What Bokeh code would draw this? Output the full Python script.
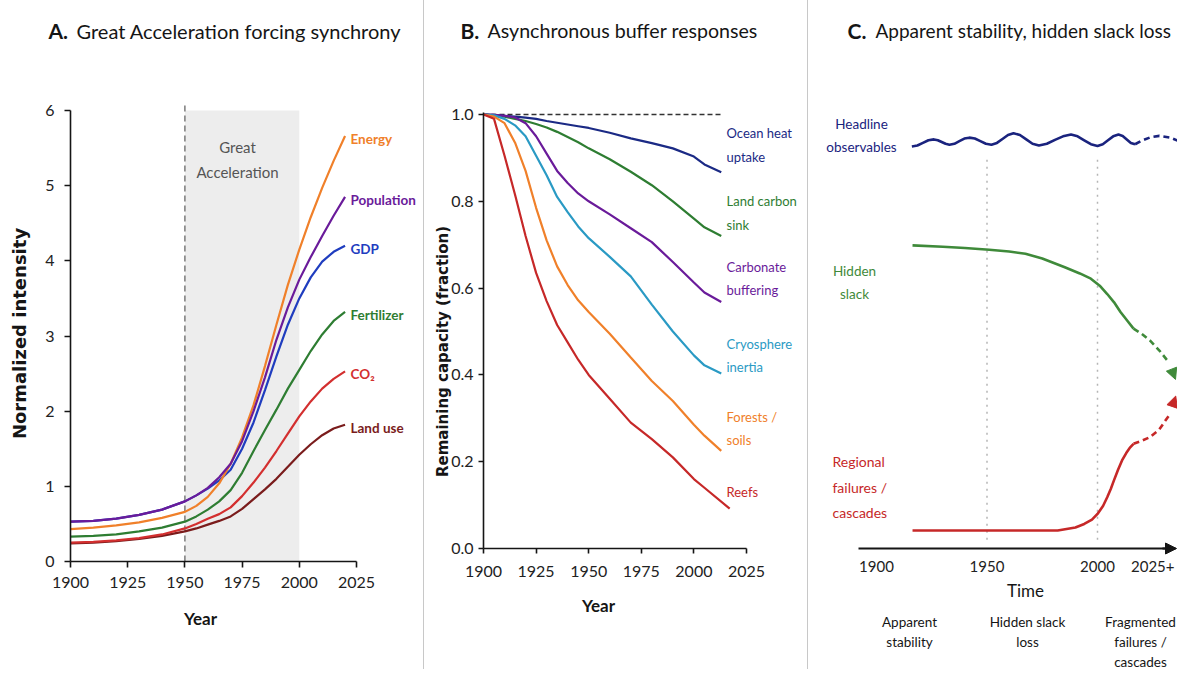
from bokeh.plotting import figure
from bokeh.models import Label, Arrow, NormalHead, Div, FixedTicker, PrintfTickFormatter, Range1d
from bokeh.layouts import row
from bokeh.embed import file_html
from bokeh.resources import INLINE

# ------------------------------------------------------------------ data
# Panel A: Great Acceleration indicators (normalized intensity)
A_YEARS = [1900, 1910, 1920, 1930, 1940, 1950, 1955, 1960, 1965, 1970, 1975,
           1980, 1985, 1990, 1995, 2000, 2005, 2010, 2015, 2020]
A_ENERGY = [0.43, 0.45, 0.48, 0.52, 0.58, 0.66, 0.74, 0.86, 1.04, 1.30, 1.65,
            2.08, 2.60, 3.15, 3.68, 4.15, 4.58, 4.97, 5.33, 5.66]
A_POPULATION = [0.53, 0.54, 0.57, 0.62, 0.69, 0.80, 0.88, 0.98, 1.12, 1.30, 1.60,
                2.00, 2.45, 2.95, 3.38, 3.75, 4.05, 4.33, 4.60, 4.85]
A_GDP = [0.53, 0.54, 0.57, 0.62, 0.69, 0.80, 0.88, 0.97, 1.08, 1.22, 1.50,
         1.85, 2.28, 2.73, 3.15, 3.50, 3.78, 3.99, 4.12, 4.20]
A_FERTILIZER = [0.33, 0.34, 0.36, 0.40, 0.45, 0.53, 0.60, 0.69, 0.80, 0.95, 1.18,
                1.47, 1.75, 2.02, 2.30, 2.55, 2.80, 3.02, 3.20, 3.32]
A_CO2 = [0.25, 0.26, 0.28, 0.31, 0.36, 0.44, 0.50, 0.57, 0.63, 0.72, 0.87,
         1.05, 1.25, 1.47, 1.70, 1.93, 2.13, 2.30, 2.43, 2.53]
A_LAND_USE = [0.24, 0.25, 0.27, 0.30, 0.34, 0.40, 0.44, 0.49, 0.54, 0.60, 0.70,
              0.83, 0.96, 1.10, 1.26, 1.42, 1.56, 1.68, 1.77, 1.82]
A_SERIES_NAMES = ["Energy", "Population", "GDP", "Fertilizer", "CO₂", "Land use"]
GREAT_ACCEL_START = 1950
GREAT_ACCEL_END = 2000
A_X_TICKS = [1900, 1925, 1950, 1975, 2000, 2025]
A_Y_TICKS = [0, 1, 2, 3, 4, 5, 6]

# Panel B: remaining buffer capacity (fraction)
B_YEARS = [1900, 1905, 1910, 1915, 1920, 1925, 1930, 1935, 1940, 1945, 1950, 1960,
           1970, 1980, 1990, 2000, 2005, 2013]
B_REEF_YEARS = [1900, 1905, 1910, 1915, 1920, 1925, 1930, 1935, 1940, 1945, 1950, 1960,
                1970, 1980, 1990, 2000, 2005, 2017]
B_OCEAN = [1.0, 0.999, 0.997, 0.995, 0.993, 0.990, 0.985, 0.981, 0.977, 0.973, 0.969,
           0.958, 0.945, 0.934, 0.922, 0.903, 0.885, 0.867]
B_LAND = [1.0, 0.998, 0.995, 0.990, 0.985, 0.978, 0.970, 0.960, 0.948, 0.936, 0.922,
          0.897, 0.868, 0.837, 0.800, 0.760, 0.740, 0.720]
B_CARBONATE = [1.0, 0.999, 0.997, 0.993, 0.980, 0.950, 0.910, 0.870, 0.842, 0.818, 0.800,
               0.770, 0.738, 0.706, 0.660, 0.613, 0.590, 0.568]
B_CRYO = [1.0, 0.998, 0.990, 0.975, 0.950, 0.905, 0.860, 0.810, 0.775, 0.742, 0.715,
          0.672, 0.627, 0.562, 0.500, 0.445, 0.422, 0.403]
B_FORESTS = [1.0, 0.995, 0.980, 0.935, 0.870, 0.785, 0.710, 0.650, 0.607, 0.572, 0.545,
             0.495, 0.440, 0.386, 0.340, 0.285, 0.260, 0.225]
B_REEFS = [1.0, 0.990, 0.905, 0.815, 0.720, 0.635, 0.570, 0.515, 0.475, 0.435, 0.400,
           0.345, 0.290, 0.252, 0.210, 0.160, 0.140, 0.092]
B_REFERENCE = 1.0
B_REFERENCE_END = 2013.5
B_SERIES_NAMES = ["Ocean heat\nuptake", "Land carbon\nsink", "Carbonate\nbuffering",
                  "Cryosphere\ninertia", "Forests /\nsoils", "Reefs"]
B_X_TICKS = [1900, 1925, 1950, 1975, 2000, 2025]
B_Y_TICKS = [0.0, 0.2, 0.4, 0.6, 0.8, 1.0]

# Panel C: schematic (time vs. arbitrary level)
C_HEADLINE_YEARS = [1916, 1918.5, 1921, 1923.5, 1926, 1927.75, 1929.5, 1931.25, 1933,
                    1935.25, 1937.5, 1939.75, 1942, 1944.5, 1947, 1949.5, 1952,
                    1954.5, 1957, 1959.5, 1962, 1964.9, 1967.75, 1970.6, 1973.5,
                    1977.1, 1980.75, 1984.4, 1988, 1991, 1994, 1997, 2000,
                    2002.4, 2004.75, 2007.1, 2009.5, 2011.4, 2013.25, 2015.1, 2017]
C_HEADLINE = [0.918, 0.920, 0.926, 0.932, 0.934, 0.932, 0.928, 0.924, 0.922,
              0.924, 0.930, 0.936, 0.938, 0.936, 0.930, 0.924, 0.922,
              0.926, 0.935, 0.944, 0.948, 0.944, 0.934, 0.924, 0.920,
              0.924, 0.933, 0.941, 0.945, 0.941, 0.932, 0.923, 0.919,
              0.923, 0.932, 0.941, 0.945, 0.942, 0.934, 0.926, 0.923]
C_HEADLINE_FUT_YEARS = [2017, 2020, 2024, 2028, 2033, 2037.8]
C_HEADLINE_FUT = [0.923, 0.931, 0.939, 0.942, 0.938, 0.928]
C_SLACK_YEARS = [1916.3, 1930, 1940, 1951, 1960, 1967.4, 1975, 1985.2, 1992, 1997,
                 2001, 2004.4, 2007.5, 2010.4, 2013.5, 2016.3]
C_SLACK = [0.692, 0.689, 0.686, 0.682, 0.678, 0.673, 0.662, 0.642, 0.628, 0.616,
           0.600, 0.581, 0.562, 0.540, 0.520, 0.502]
C_SLACK_FUT_YEARS = [2016.3, 2020, 2023.7, 2028, 2032.3]
C_SLACK_FUT = [0.502, 0.490, 0.475, 0.452, 0.425]
C_SLACK_TIP = (2035.3, 0.386)
C_FAIL_YEARS = [1916.3, 1950, 1982, 1990, 1994, 1997.5, 2000, 2002.5, 2004.4, 2006,
                2007.4, 2009.3, 2011.1, 2013, 2014.8, 2016.3]
C_FAIL = [0.041, 0.041, 0.041, 0.048, 0.056, 0.066, 0.079, 0.097, 0.117, 0.136,
          0.155, 0.180, 0.201, 0.218, 0.231, 0.239]
C_FAIL_FUT_YEARS = [2016.3, 2020, 2023.7, 2028, 2032.5]
C_FAIL_FUT = [0.239, 0.246, 0.254, 0.272, 0.305]
C_FAIL_TIP = (2035.4, 0.348)
C_PHASE_MARKS = [1950, 2000]
C_X_TICKS = [1900, 1950, 2000, 2025]
C_TICK_LABELS = {2025: "2025+"}
C_SERIES_NAMES = ["Headline\nobservables", "Hidden\nslack", "Regional\nfailures /\ncascades"]
C_PHASES = ["Apparent\nstability", "Hidden slack\nloss", "Fragmented\nfailures /\ncascades"]

# ------------------------------------------------------------------ styles
FONT = "Lato"
WIDE_BOLD = "DejaVu Sans"
TOP, H = 0, 669

ORANGE = "#f0802a"
PURPLE = "#6a1b9a"
BLUE = "#1f3dbf"
GREEN = "#2e7d32"
RED = "#d32f2f"
DARKRED = "#7a1c1c"
NAVY = "#1b2a85"
TEAL = "#2a9ac4"
REEF = "#c62828"
CGREEN = "#3f8a3a"
CRED = "#c62828"
CNAVY = "#1a237e"
INK = "#151515"


def mapper(pa, va, pb, vb):
    k = (vb - va) / (pb - pa)
    return lambda px: va + (px - pa) * k


def make_fig(fig_left, fig_width, fx, fy, **kw):
    p = figure(width=fig_width, height=H,
               x_range=Range1d(fx(fig_left), fx(fig_left + fig_width)),
               y_range=Range1d(fy(TOP + H), fy(TOP)),
               min_border=0, min_border_left=0, min_border_right=0,
               min_border_top=0, min_border_bottom=0,
               output_backend="svg", toolbar_location=None, **kw)
    p.grid.visible = False
    p.outline_line_color = None
    p.background_fill_color = "white"
    p.border_fill_color = "white"
    return p


def style_axis(ax, size, loc, bounds, tick_out=6, standoff=6, width=1.6):
    ax.fixed_location = loc
    ax.bounds = bounds
    ax.axis_line_color = INK
    ax.axis_line_width = width
    ax.major_tick_line_color = INK
    ax.major_tick_line_width = width
    ax.major_tick_out = tick_out
    ax.major_tick_in = 0
    ax.minor_tick_line_color = None
    ax.major_label_text_font = FONT
    ax.major_label_text_font_size = size
    ax.major_label_text_color = "#222222"
    ax.major_label_standoff = standoff


def label(p, x, y, text, color, size, bold=False, align="left", font=FONT,
          angle=0.0, lh=1.2, baseline="middle"):
    p.add_layout(Label(x=x, y=y, text=text, text_color=color, text_font=font,
                       text_font_size=f"{size}px",
                       text_font_style="bold" if bold else "normal",
                       text_align=align, text_baseline=baseline, angle=angle,
                       text_line_height=lh))


# ------------------------------------------------------------------ panel A
fxA = mapper(70, 1900, 356, 2025)
fyA = mapper(561, 0, 110, 6)
pA = make_fig(0, 423, fxA, fyA)
pA.quad(left=[GREAT_ACCEL_START], right=[GREAT_ACCEL_END], bottom=[0], top=[6],
        fill_color="#ededed", line_color=None)
pA.segment(x0=[GREAT_ACCEL_START], y0=[0], x1=[GREAT_ACCEL_START], y1=[fyA(105)],
           line_color="#666666", line_dash="6 4", line_width=1.3)
A_DATA = [A_ENERGY, A_POPULATION, A_GDP, A_FERTILIZER, A_CO2, A_LAND_USE]
A_COLORS = [ORANGE, PURPLE, BLUE, GREEN, RED, DARKRED]
for idx in [2, 5, 4, 3, 0, 1]:
    pA.line(A_YEARS, A_DATA[idx], line_color=A_COLORS[idx], line_width=2.2)
for name, vals, col in zip(A_SERIES_NAMES, A_DATA, A_COLORS):
    label(pA, fxA(350), vals[-1] - 0.04, name, col, 13.5, bold=True)
label(pA, fxA(237), fyA(159), "Great\nAcceleration", "#555555", 15, lh=1.35, align="center")
style_axis(pA.xaxis[0], "16px", 0, (1900, 2025), standoff=9)
style_axis(pA.yaxis[0], "16px", 1900, (0, 6), standoff=10)
pA.xaxis.ticker = FixedTicker(ticks=A_X_TICKS)
pA.yaxis.ticker = FixedTicker(ticks=A_Y_TICKS)
label(pA, fxA(200), fyA(618), "Year", INK, 17, bold=True, align="center")
label(pA, fxA(19), fyA(333), "Normalized intensity", INK, 18, bold=True,
      align="center", font=WIDE_BOLD, angle=1.5707963)
label(pA, fxA(48), fyA(30), "A.", INK, 21, bold=True)
label(pA, fxA(76), fyA(30), "Great Acceleration forcing synchrony", INK, 20)

# ------------------------------------------------------------------ panel B
fxB = mapper(483, 1900, 746, 2025)
fyB = mapper(548, 0, 114, 1.0)
pB = make_fig(424, 383, fxB, fyB)
pB.line([B_YEARS[0], B_REFERENCE_END], [B_REFERENCE, B_REFERENCE], line_color="#333333",
        line_dash="5 3", line_width=1.3)
B_DATA = [B_OCEAN, B_LAND, B_CARBONATE, B_CRYO, B_FORESTS]
B_COLORS = [NAVY, GREEN, PURPLE, TEAL, ORANGE]
for vals, col in zip(B_DATA, B_COLORS):
    pB.line(B_YEARS, vals, line_color=col, line_width=2.2)
pB.line(B_REEF_YEARS, B_REEFS, line_color=REEF, line_width=2.2)
B_LABEL_PY = [144.5, 212.5, 278.3, 355, 428.3, 491.7]
for name, py, col in zip(B_SERIES_NAMES, B_LABEL_PY, B_COLORS + [REEF]):
    label(pB, fxB(726), fyB(py), name, col, 13, lh=1.45)
style_axis(pB.xaxis[0], "16px", 0, (1900, 2025), tick_out=5, standoff=12)
style_axis(pB.yaxis[0], "16px", 1900, (0, fyB(111.5)), tick_out=5, standoff=5)
pB.xaxis.ticker = FixedTicker(ticks=B_X_TICKS)
pB.yaxis.ticker = FixedTicker(ticks=B_Y_TICKS)
pB.yaxis.formatter = PrintfTickFormatter(format="%.1f")
label(pB, fxB(598), fyB(605), "Year", INK, 17, bold=True, align="center")
label(pB, fxB(442), fyB(351), "Remaining capacity (fraction)", INK, 15, bold=True,
      align="center", font=WIDE_BOLD, angle=1.5707963)
label(pB, fxB(460), fyB(30), "B.", INK, 21, bold=True)
label(pB, fxB(487), fyB(30), "Asynchronous buffer responses", INK, 19.6)

# ------------------------------------------------------------------ panel C
fxC = mapper(876, 1900, 1097, 2000)
fyC = mapper(548, 0, 110, 1.0)
pC = make_fig(808, 369, fxC, fyC, y_axis_location=None)
pC.segment(x0=C_PHASE_MARKS, y0=[0.02] * len(C_PHASE_MARKS), x1=C_PHASE_MARKS,
           y1=[0.895] * len(C_PHASE_MARKS), line_color="#b5b5b5", line_width=1.5,
           line_dash="2 5")
pC.line(C_HEADLINE_YEARS, C_HEADLINE, line_color=CNAVY, line_width=2.6)
pC.line(C_HEADLINE_FUT_YEARS, C_HEADLINE_FUT, line_color=CNAVY, line_width=2.6, line_dash="6 4")
pC.line(C_SLACK_YEARS, C_SLACK, line_color=CGREEN, line_width=2.6)
pC.line(C_SLACK_FUT_YEARS, C_SLACK_FUT, line_color=CGREEN, line_width=2.6, line_dash="6 4")
pC.line(C_FAIL_YEARS, C_FAIL, line_color=CRED, line_width=2.6)
pC.line(C_FAIL_FUT_YEARS, C_FAIL_FUT, line_color=CRED, line_width=2.6, line_dash="6 4")
pC.add_layout(Arrow(end=NormalHead(size=11, fill_color=CGREEN, line_color=CGREEN),
                    x_start=C_SLACK_FUT_YEARS[-1], y_start=C_SLACK_FUT[-1],
                    x_end=C_SLACK_TIP[0], y_end=C_SLACK_TIP[1], line_alpha=0))
pC.add_layout(Arrow(end=NormalHead(size=11, fill_color=CRED, line_color=CRED),
                    x_start=C_FAIL_FUT_YEARS[-1], y_start=C_FAIL_FUT[-1],
                    x_end=C_FAIL_TIP[0], y_end=C_FAIL_TIP[1], line_alpha=0))
xa = pC.xaxis[0]
style_axis(xa, "15px", 0, (fxC(858), fxC(1175)), tick_out=0, standoff=12, width=2.2)
xa.ticker = FixedTicker(ticks=C_X_TICKS)
xa.major_label_overrides = C_TICK_LABELS
pC.add_layout(Arrow(end=NormalHead(size=11, fill_color=INK, line_color=INK),
                    x_start=fxC(1162), y_start=0, x_end=fxC(1176), y_end=0,
                    line_color=INK, line_width=2.2))
label(pC, fxC(861), fyC(135), C_SERIES_NAMES[0], CNAVY, 13.5, lh=1.45, align="center")
label(pC, fxC(854), fyC(282), C_SERIES_NAMES[1], CGREEN, 13.5, lh=1.45, align="center")
label(pC, fxC(832), fyC(486.5), C_SERIES_NAMES[2], CRED, 14, lh=1.5)
label(pC, fxC(1025), fyC(590), "Time", INK, 17, align="center")
for name, cpx in zip(C_PHASES, [909, 1027, 1140]):
    label(pC, fxC(cpx), fyC(613), name, INK, 13.5, lh=1.25, align="center", baseline="top")
label(pC, fxC(847), fyC(30), "C.", INK, 21, bold=True)
label(pC, fxC(875), fyC(30), "Apparent stability, hidden slack loss", INK, 19)

# ------------------------------------------------------------------ layout
sep1 = Div(text="", width=1, height=H, margin=0, styles={"background-color": "#c8c8c8"})
sep2 = Div(text="", width=1, height=H, margin=0, styles={"background-color": "#c8c8c8"})
layout = row(pA, sep1, pB, sep2, pC)

open("out.html", "w").write(file_html(layout, INLINE))
